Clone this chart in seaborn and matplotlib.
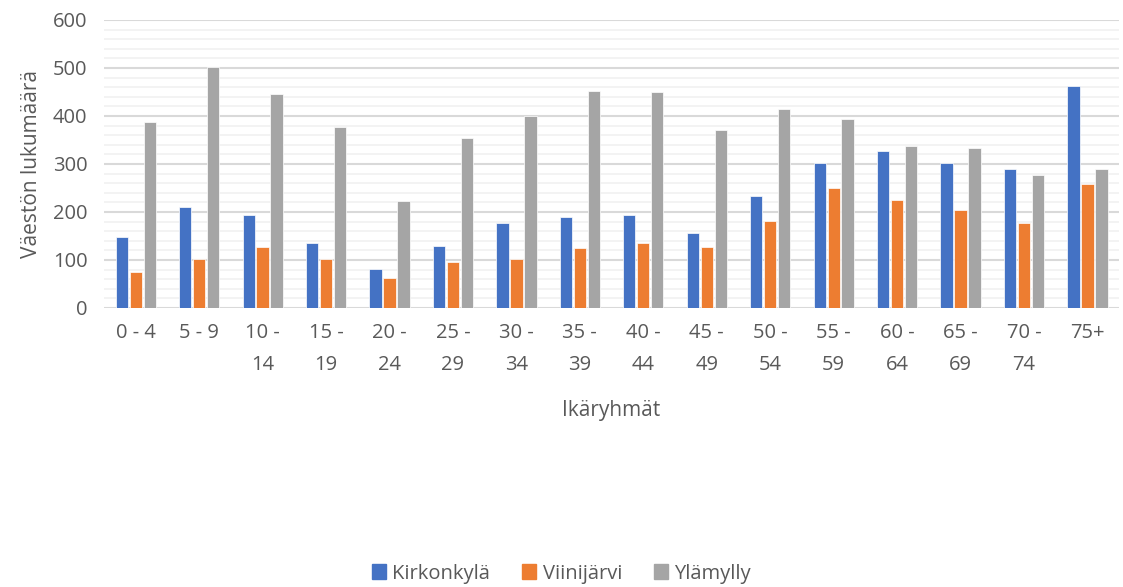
import pandas as pd
import seaborn as sns
import matplotlib.pyplot as plt
from matplotlib.ticker import MultipleLocator

# Age groups and population per village
ages = ['0 - 4', '5 - 9', '10 - 14', '15 - 19', '20 - 24', '25 - 29', '30 - 34', '35 - 39',
        '40 - 44', '45 - 49', '50 - 54', '55 - 59', '60 - 64', '65 - 69', '70 - 74', '75+']
kirkonkyla = [148, 210, 194, 135, 82, 130, 178, 189, 194, 156, 234, 301, 327, 301, 290, 463]
viinijarvi = [76, 103, 127, 103, 63, 96, 103, 125, 135, 127, 181, 250, 226, 205, 178, 258]
ylamylly = [388, 501, 445, 378, 223, 354, 400, 453, 450, 370, 415, 394, 338, 333, 277, 290]

series = ['Kirkonkylä', 'Viinijärvi', 'Ylämylly']
colors = ['#4472C4', '#ED7D31', '#A5A5A5']

df = pd.DataFrame({
    'Ikäryhmä': ages * 3,
    'Alue': [s for s in series for _ in ages],
    'Väestö': kirkonkyla + viinijarvi + ylamylly,
})

sns.set_style('white')
plt.rcParams['font.family'] = ['Open Sans', 'DejaVu Sans']
text_col = '#595959'

fig = plt.figure(figsize=(11.23, 5.87), dpi=100)
ax = fig.add_axes([0.0926, 0.4753, 0.904, 0.4907])

sns.barplot(data=df, x='Ikäryhmä', y='Väestö', hue='Alue', palette=colors, saturation=1,
            width=0.66, gap=0.12, ax=ax, legend=False, edgecolor='white', linewidth=0.5)

ax.set_ylim(0, 600)
ax.yaxis.set_major_locator(MultipleLocator(100))
ax.yaxis.set_minor_locator(MultipleLocator(20))
ax.grid(axis='y', which='major', color='#D9D9D9', linewidth=1.5)
ax.grid(axis='y', which='minor', color='#F2F2F2', linewidth=1.3)
ax.set_axisbelow(True)
for s in ax.spines.values():
    s.set_visible(False)

ax.set_xticks(range(len(ages)))
ax.set_xticklabels([a.replace(' - ', ' -\n') if len(a) > 5 else a for a in ages],
                   fontsize=14.5, color=text_col, linespacing=1.75)
ax.tick_params(axis='both', length=0, labelsize=14.5, labelcolor=text_col)
ax.tick_params(axis='x', pad=11)
ax.tick_params(axis='y', pad=12)

ax.set_xlabel('Ikäryhmät', fontsize=15, color=text_col, labelpad=18)
ax.set_ylabel('Väestön lukumäärä', fontsize=15, color=text_col, labelpad=8)

handles = [plt.Rectangle((0, 0), 1, 1, color=c) for c in colors]
fig.legend(handles, series, loc='lower center', bbox_to_anchor=(0.5, -0.025), ncol=3,
           frameon=False, fontsize=14.5, labelcolor=text_col, handlelength=0.7,
           handleheight=0.7, handletextpad=0.3, columnspacing=1.6)

plt.savefig('out.png', dpi=100)
